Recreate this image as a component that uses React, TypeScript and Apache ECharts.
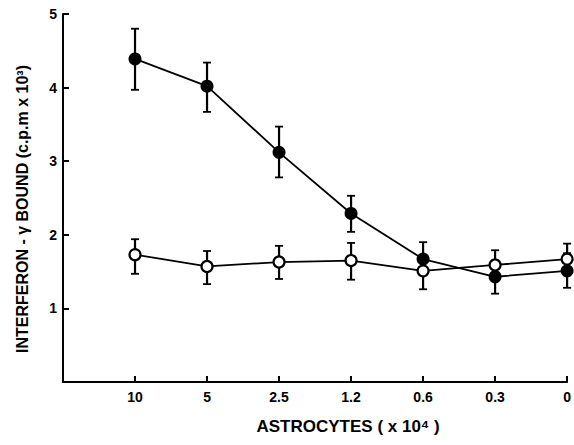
import React, { useEffect, useRef } from "react";
import * as echarts from "echarts";

const categories = ["10", "5", "2.5", "1.2", "0.6", "0.3", "0"];
const yTickLabels = ["", "1", "2", "3", "4", "5"];
const filledMean = [4.39, 4.02, 3.12, 2.29, 1.67, 1.43, 1.51];
const filledLow = [3.97, 3.67, 2.78, 2.04, 1.45, 1.2, 1.28];
const filledHigh = [4.8, 4.34, 3.47, 2.53, 1.9, 1.65, 1.75];
const openMean = [1.73, 1.57, 1.63, 1.65, 1.51, 1.59, 1.67];
const openLow = [1.47, 1.33, 1.4, 1.39, 1.26, 1.38, 1.45];
const openHigh = [1.94, 1.78, 1.85, 1.89, 1.7, 1.79, 1.88];

const FONT = "Liberation Sans";

function errorSeries(low: number[], high: number[]) {
  return {
    type: "custom",
    z: 1,
    silent: true,
    data: low.map((l, i) => [i, l, high[i]]),
    renderItem: (params: any, api: any) => {
      const x = api.value(0);
      const lo = api.coord([x, api.value(1)]);
      const hi = api.coord([x, api.value(2)]);
      const w = 4;
      const style = { stroke: "#000", lineWidth: 2.2, fill: "none" };
      return {
        type: "group",
        children: [
          { type: "line", shape: { x1: lo[0], y1: lo[1], x2: hi[0], y2: hi[1] }, style },
          { type: "line", shape: { x1: lo[0] - w, y1: lo[1], x2: lo[0] + w, y2: lo[1] }, style: { ...style, lineWidth: 1.8 } },
          { type: "line", shape: { x1: hi[0] - w, y1: hi[1], x2: hi[0] + w, y2: hi[1] }, style: { ...style, lineWidth: 1.8 } },
        ],
      };
    },
  };
}

export default function App() {
  const ref = useRef<HTMLDivElement>(null);
  useEffect(() => {
    const chart = echarts.init(ref.current!, undefined, { renderer: "svg" });
    chart.setOption({
      animation: false,
      backgroundColor: "#fff",
      grid: { left: 63, right: 6, top: 14, bottom: 63 },
      xAxis: {
        type: "value",
        min: -1,
        max: 6,
        interval: 1,
        name: "ASTROCYTES ( x 10⁴ )",
        nameLocation: "middle",
        nameGap: 36,
        nameTextStyle: { fontFamily: FONT, fontWeight: "bold", fontSize: 17, color: "#000", padding: [0, 0, 0, 66] },
        axisLine: { show: true, onZero: false, lineStyle: { color: "#000", width: 2 } },
        axisTick: { show: true, inside: true, length: 6, lineStyle: { color: "#000", width: 2 } },
        axisLabel: {
          fontFamily: FONT,
          fontWeight: "bold",
          fontSize: 14,
          color: "#000",
          margin: 8,
          formatter: (v: number) => (v >= 0 && v < categories.length ? categories[v] : ""),
        },
        splitLine: { show: false },
      },
      yAxis: {
        type: "value",
        min: 0,
        max: 5,
        interval: 1,
        name: "INTERFERON - γ BOUND (c.p.m x 10³)",
        nameLocation: "middle",
        nameGap: 33,
        nameTextStyle: { fontFamily: FONT, fontWeight: "bold", fontSize: 16, color: "#000", padding: [0, 22, 0, 0] },
        axisLine: { show: true, onZero: false, lineStyle: { color: "#000", width: 2 } },
        axisTick: { show: true, inside: true, length: 6, lineStyle: { color: "#000", width: 2 } },
        axisLabel: {
          fontFamily: FONT,
          fontWeight: "bold",
          fontSize: 14,
          color: "#000",
          margin: 6,
          formatter: (v: number) => yTickLabels[v] ?? "",
        },
        splitLine: { show: false },
      },
      series: [
        errorSeries(filledLow, filledHigh),
        errorSeries(openLow, openHigh),
        {
          type: "line",
          z: 3,
          data: filledMean.map((v, i) => [i, v]),
          symbol: "circle",
          symbolSize: 13,
          itemStyle: { color: "#000" },
          lineStyle: { color: "#000", width: 1.8 },
        },
        {
          type: "line",
          z: 4,
          data: openMean.map((v, i) => [i, v]),
          symbol: "circle",
          symbolSize: 11,
          itemStyle: { color: "#fff", borderColor: "#000", borderWidth: 2.2 },
          lineStyle: { color: "#000", width: 1.8 },
        },
      ],
    });
    return () => chart.dispose();
  }, []);
  return <div ref={ref} style={{ position: "fixed", left: 0, top: 0, width: 574, height: 445 }} />;
}
